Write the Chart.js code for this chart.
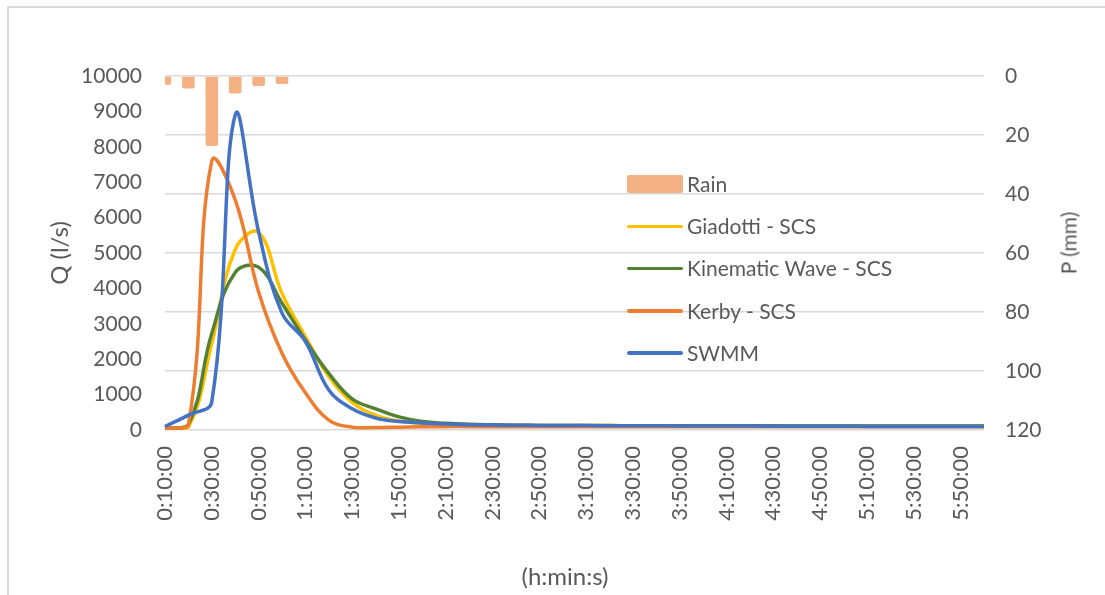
<!DOCTYPE html>
<html>
<head>
<meta charset="utf-8">
<script src="https://cdn.jsdelivr.net/npm/chart.js@4.4.1/dist/chart.umd.min.js"></script>
<style>
  body { margin: 0; background: #fff; font-family: Lato, sans-serif; }
  #wrap { position: relative; width: 1105px; height: 595px; overflow: hidden; }
  #frame { position: absolute; left: 7px; top: 6px; width: 1200px; height: 700px;
           border-left: 2px solid #d9d9d9; border-top: 2px solid #d9d9d9; }
  canvas { position: absolute; left: 0; top: 0; }
  .leg { position: absolute; left: 627px; height: 24px; line-height: 24px;
         font-size: 21px; color: #595959; white-space: nowrap; }
  .leg .mk { position: absolute; left: 0; width: 56px; }
  .leg span { position: absolute; left: 60px; top: 0; }
  .ttl { position: absolute; color: #595959; white-space: nowrap; }
  #ptitle { left: 1068px; top: 243px; font-size: 21px; transform: translate(-50%, -50%) rotate(-90deg); }
  #xtitle { left: 565px; top: 575px; font-size: 24px; transform: translate(-50%, -50%); }
</style>
</head>
<body>
<div id="wrap">
  <div id="frame"></div>
  <canvas id="chart" width="1105" height="595"></canvas>
  <div id="legend"></div>
  <div class="ttl" id="ptitle">P (mm)</div>
  <div class="ttl" id="xtitle">(h:min:s)</div>
</div>
<script>
// data
const times = ["0:10:00","0:20:00","0:30:00","0:40:00","0:50:00","1:00:00","1:10:00","1:20:00","1:30:00",
  "1:40:00","1:50:00","2:00:00","2:10:00","2:20:00","2:30:00","2:40:00","2:50:00","3:00:00",
  "3:10:00","3:20:00","3:30:00","3:40:00","3:50:00","4:00:00","4:10:00","4:20:00","4:30:00",
  "4:40:00","4:50:00","5:00:00","5:10:00","5:20:00","5:30:00","5:40:00","5:50:00","6:00:00"];

const rain = [3, 4.2, 23.7, 5.9, 3.4, 2.7, 0, 0, 0, 0, 0, 0, 0, 0, 0, 0, 0, 0,
  0, 0, 0, 0, 0, 0, 0, 0, 0, 0, 0, 0, 0, 0, 0, 0, 0, 0];

const giadotti = [30, 80, 2450, 5100, 5580, 3860, 2640, 1510, 780, 420, 250, 190, 160, 145, 135, 130, 128, 126,
  125, 124, 123, 122, 121, 120, 119, 118, 117, 116, 115, 114, 113, 112, 111, 110, 110, 110];

const kinematic = [50, 150, 2730, 4450, 4600, 3580, 2540, 1600, 880, 600, 370, 240, 190, 160, 145, 135, 130, 127,
  125, 124, 123, 122, 121, 120, 119, 118, 117, 116, 115, 114, 113, 112, 111, 110, 110, 110];

const kerby = [50, 150, 7600, 6500, 3900, 2170, 1050, 280, 80, 70, 80, 90, 95, 95, 95, 95, 95, 95,
  95, 95, 95, 95, 95, 95, 95, 95, 95, 95, 95, 95, 95, 95, 95, 95, 95, 95];

const swmm = [100, 420, 800, 8900, 5600, 3300, 2500, 1130, 600, 340, 240, 200, 170, 150, 140, 135, 130, 127,
  124, 122, 120, 118, 116, 114, 112, 110, 108, 106, 104, 103, 102, 101, 100, 100, 100, 100];

const qTicks = [0, 10000, 1000];   // min, max, step
const pTicks = [0, 120, 20];

const names = ["Rain", "Giadotti - SCS", "Kinematic Wave - SCS", "Kerby - SCS", "SWMM"];
const colors = ["#F4B183", "#FFC000", "#548235", "#ED7D31", "#4472C4"];

const textGray = "#595959";
const tickFont = { family: "Lato", size: 21 };
const xTickFont = { family: "Lato", size: 22 };
const titleFont = { family: "Lato", size: 24 };

function lineSet(i, values) {
  return {
    type: "line",
    label: names[i],
    data: values,
    borderColor: colors[i],
    backgroundColor: colors[i],
    borderWidth: 3.5,
    pointRadius: 0,
    tension: 0.4,
    yAxisID: "y",
    order: 6 - i
  };
}

new Chart(document.getElementById("chart"), {
  data: {
    labels: times,
    datasets: [
      {
        type: "bar",
        label: names[0],
        data: rain,
        backgroundColor: colors[0],
        borderRadius: 2,
        borderSkipped: "start",
        barPercentage: 0.6,
        categoryPercentage: 0.9,
        yAxisID: "y2",
        order: 10
      },
      lineSet(1, giadotti),
      lineSet(2, kinematic),
      lineSet(3, kerby),
      lineSet(4, swmm)
    ]
  },
  options: {
    responsive: false,
    animation: false,
    layout: { padding: { top: 76, left: 0, right: 0, bottom: 0 } },
    plugins: { legend: { display: false }, tooltip: { enabled: false } },
    scales: {
      x: {
        offset: false,
        grid: { display: false, drawTicks: false },
        border: { display: false },
        ticks: {
          autoSkip: false, minRotation: 90, maxRotation: 90, padding: 16,
          color: textGray, font: xTickFont,
          callback: function (val, i) { return i % 2 === 0 ? this.getLabelForValue(val) : ""; }
        },
        afterFit: s => { s.height = 165; }
      },
      y: {
        position: "left",
        min: qTicks[0], max: qTicks[1],
        grid: { display: false, drawTicks: false },
        border: { display: false },
        ticks: { stepSize: qTicks[2], autoSkip: false, padding: 23, color: textGray, font: tickFont,
                 callback: v => String(v) },
        title: { display: true, text: "Q (l/s)", color: textGray, font: titleFont, padding: { top: 46, bottom: 0 } },
        afterFit: s => { s.width = 165; }
      },
      y2: {
        position: "right",
        reverse: true,
        min: pTicks[0], max: pTicks[1],
        grid: { display: true, drawTicks: false, color: "#d9d9d9", lineWidth: 1.5 },
        border: { display: false },
        ticks: { stepSize: pTicks[2], autoSkip: false, padding: 21, color: textGray, font: tickFont },
        afterFit: s => { s.width = 121; }
      }
    }
  }
});

// legend inside the plot
const legend = document.getElementById("legend");
names.forEach((name, i) => {
  const row = document.createElement("div");
  row.className = "leg";
  row.style.top = (172 + i * 42.2) + "px";
  const mk = document.createElement("div");
  mk.className = "mk";
  if (i === 0) {
    mk.style.top = "3px"; mk.style.height = "18px"; mk.style.borderRadius = "2px";
  } else {
    mk.style.top = "10.5px"; mk.style.height = "3.5px"; mk.style.borderRadius = "2px";
  }
  mk.style.background = colors[i];
  const tx = document.createElement("span");
  tx.textContent = name;
  row.appendChild(mk);
  row.appendChild(tx);
  legend.appendChild(row);
});
</script>
</body>
</html>
